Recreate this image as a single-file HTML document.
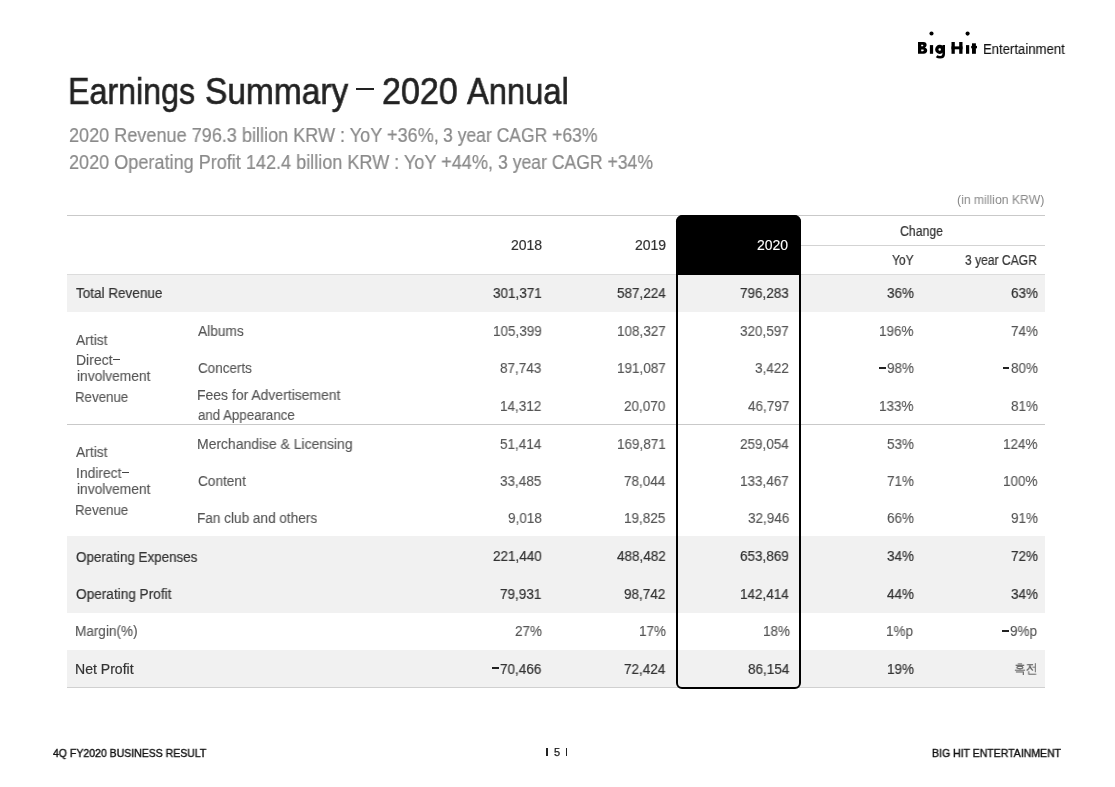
<!DOCTYPE html>
<html><head><meta charset="utf-8">
<style>
*{margin:0;padding:0;box-sizing:border-box}
html,body{width:1115px;height:787px;background:#fff;overflow:hidden}
body{position:relative;font-family:"Liberation Sans",sans-serif;color:#333}
.t{position:absolute;white-space:nowrap;transform-origin:0 0;will-change:transform}
.r{position:absolute}
.hl{height:1px;background:#cbcbcb}
</style></head><body>

<div class="r" style="left:67px;top:275px;width:978px;height:37px;background:#f1f1f1"></div>
<div class="r" style="left:67px;top:536px;width:978px;height:77px;background:#f1f1f1"></div>
<div class="r" style="left:67px;top:650px;width:978px;height:37px;background:#f1f1f1"></div>
<div class="r hl" style="left:67px;width:978px;top:215px;background:#c9c9c9"></div>
<div class="r hl" style="left:800px;width:245px;top:245px;background:#d3d3d3"></div>
<div class="r hl" style="left:67px;width:978px;top:274px;background:#dcdcdc"></div>
<div class="r hl" style="left:67px;width:978px;top:424px;background:#c9c9c9"></div>
<div class="r hl" style="left:67px;width:978px;top:687px;background:#d0d0d0"></div>
<div class="r" style="left:676px;top:214.5px;width:124.6px;height:474px;border:2px solid #000;border-radius:6.5px 6.5px 6px 6px"></div>
<div class="r" style="left:676px;top:214.5px;width:124.6px;height:60px;background:#000;border-radius:6.5px 6.5px 0 0"></div>
<div class="r" style="left:356px;top:88px;width:18px;height:2.2px;background:#222"></div>


<svg class="r" style="left:900px;top:20px" width="90" height="45" viewBox="900 20 90 45">
<g fill="#000">
<path fill-rule="evenodd" d="M918,42 H923.4 C925.7,42 926.6,43.3 926.6,44.8 C926.6,46.2 925.9,47.1 924.9,47.6 C926.4,48 927.2,49.2 927.2,50.6 C927.2,52.6 925.9,53.8 923.7,53.8 H918 Z M921.2,44.7 H922.7 C923.1,44.7 923.3,45.1 923.3,45.5 C923.3,45.9 923.1,46.3 922.7,46.3 H921.2 Z M921.2,49.4 H922.9 C923.5,49.4 923.8,49.9 923.8,50.35 C923.8,50.8 923.5,51.3 922.9,51.3 H921.2 Z"/>
<rect x="929.9" y="45.1" width="3.2" height="8.7"/>
<circle cx="931.5" cy="33.5" r="2.05"/>
<rect x="951.5" y="42" width="3.3" height="11.8"/>
<rect x="959.2" y="42" width="3.3" height="11.8"/>
<rect x="951.5" y="46.4" width="11" height="2.9"/>
<rect x="966" y="45.1" width="3.2" height="8.7"/>
<circle cx="967.6" cy="33.6" r="2.05"/>
<rect x="972" y="43.3" width="3.9" height="10.5"/>
<rect x="971.2" y="45.9" width="5.8" height="2.4"/>
</g>
<g fill="none" stroke="#000">
<circle cx="939.7" cy="49.4" r="2.9" stroke-width="3.3"/>
<path d="M943.7,45.1 V54 C943.7,56.4 942.2,57.3 940.2,57.3 C938.7,57.3 937.5,56.9 936.6,56.2" stroke-width="2.6"/>
</g>
</svg>

<div class="r" style="left:546.1px;top:747.8px;width:1.5px;height:8.6px;background:#222"></div>
<div class="r" style="left:565.9px;top:747.8px;width:1.5px;height:8.6px;background:#222"></div>
<div class="t" style="left:554px;top:747px;font-size:11px;line-height:11px;color:#1a1a1a;-webkit-text-stroke:0.25px #1a1a1a">5</div>
<div class="t" style="left:68.21px;top:74px;font-size:36px;line-height:36px;color:#222;transform:scaleX(0.8951);-webkit-text-stroke:0.6px #222;">Earnings</div>
<div class="t" style="left:204.57px;top:74px;font-size:36px;line-height:36px;color:#222;transform:scaleX(0.9299);-webkit-text-stroke:0.6px #222;">Summary</div>
<div class="t" style="left:382.15px;top:74px;font-size:36px;line-height:36px;color:#222;transform:scaleX(0.9467);-webkit-text-stroke:0.6px #222;">2020</div>
<div class="t" style="left:467.00px;top:74px;font-size:36px;line-height:36px;color:#222;transform:scaleX(0.9083);-webkit-text-stroke:0.6px #222;">Annual</div>
<div class="t" style="left:68.50px;top:125px;font-size:20px;line-height:20px;color:#8a8a8a;transform:scaleX(0.9040);-webkit-text-stroke:0.2px #8a8a8a;">2020 Revenue 796.3 billion KRW : YoY +36%,</div>
<div class="t" style="left:443.00px;top:125px;font-size:20px;line-height:20px;color:#8a8a8a;transform:scaleX(0.8764);-webkit-text-stroke:0.2px #8a8a8a;">3 year CAGR +63%</div>
<div class="t" style="left:68.50px;top:152px;font-size:20px;line-height:20px;color:#8a8a8a;transform:scaleX(0.9039);-webkit-text-stroke:0.2px #8a8a8a;">2020 Operating Profit 142.4 billion KRW : YoY +44%,</div>
<div class="t" style="left:497.60px;top:152px;font-size:20px;line-height:20px;color:#8a8a8a;transform:scaleX(0.8792);-webkit-text-stroke:0.2px #8a8a8a;">3 year CAGR +34%</div>
<div class="t" style="left:957.00px;top:194px;font-size:12.5px;line-height:12.5px;color:#888;transform:scaleX(0.9765);">(in million KRW)</div>
<div class="t" style="left:510.94px;top:238px;font-size:14px;line-height:14px;color:#333;-webkit-text-stroke:0.2px #333;">2018</div>
<div class="t" style="left:634.64px;top:238px;font-size:14px;line-height:14px;color:#333;-webkit-text-stroke:0.2px #333;">2019</div>
<div class="t" style="left:756.64px;top:238px;font-size:14px;line-height:14px;color:#fff;-webkit-text-stroke:0.12px #fff;">2020</div>
<div class="t" style="left:900.40px;top:224px;font-size:14px;line-height:14px;color:#333;transform:scaleX(0.8750);-webkit-text-stroke:0.2px #333;">Change</div>
<div class="t" style="left:891.50px;top:253px;font-size:14px;line-height:14px;color:#333;transform:scaleX(0.8630);-webkit-text-stroke:0.2px #333;">YoY</div>
<div class="t" style="left:965.40px;top:253px;font-size:14px;line-height:14px;color:#333;transform:scaleX(0.8624);-webkit-text-stroke:0.2px #333;">3 year CAGR</div>
<div class="t" style="left:492.76px;top:286px;font-size:14px;line-height:14px;color:#333;transform:scaleX(0.9650);-webkit-text-stroke:0.2px #333;">301,371</div>
<div class="t" style="left:616.96px;top:286px;font-size:14px;line-height:14px;color:#333;transform:scaleX(0.9650);-webkit-text-stroke:0.2px #333;">587,224</div>
<div class="t" style="left:740.16px;top:286px;font-size:14px;line-height:14px;color:#333;transform:scaleX(0.9650);-webkit-text-stroke:0.2px #333;">796,283</div>
<div class="t" style="left:886.89px;top:286px;font-size:14px;line-height:14px;color:#333;transform:scaleX(0.9650);-webkit-text-stroke:0.2px #333;">36%</div>
<div class="t" style="left:1010.59px;top:286px;font-size:14px;line-height:14px;color:#333;transform:scaleX(0.9650);-webkit-text-stroke:0.2px #333;">63%</div>
<div class="t" style="left:492.76px;top:324px;font-size:14px;line-height:14px;color:#555;transform:scaleX(0.9650);-webkit-text-stroke:0.12px #555;">105,399</div>
<div class="t" style="left:616.96px;top:324px;font-size:14px;line-height:14px;color:#555;transform:scaleX(0.9650);-webkit-text-stroke:0.12px #555;">108,327</div>
<div class="t" style="left:740.16px;top:324px;font-size:14px;line-height:14px;color:#555;transform:scaleX(0.9650);-webkit-text-stroke:0.12px #555;">320,597</div>
<div class="t" style="left:879.38px;top:324px;font-size:14px;line-height:14px;color:#555;transform:scaleX(0.9650);-webkit-text-stroke:0.12px #555;">196%</div>
<div class="t" style="left:1010.59px;top:324px;font-size:14px;line-height:14px;color:#555;transform:scaleX(0.9650);-webkit-text-stroke:0.12px #555;">74%</div>
<div class="t" style="left:500.27px;top:361px;font-size:14px;line-height:14px;color:#555;transform:scaleX(0.9650);-webkit-text-stroke:0.12px #555;">87,743</div>
<div class="t" style="left:616.96px;top:361px;font-size:14px;line-height:14px;color:#555;transform:scaleX(0.9650);-webkit-text-stroke:0.12px #555;">191,087</div>
<div class="t" style="left:755.19px;top:361px;font-size:14px;line-height:14px;color:#555;transform:scaleX(0.9650);-webkit-text-stroke:0.12px #555;">3,422</div>
<div class="t" style="left:886.89px;top:361px;font-size:14px;line-height:14px;color:#555;transform:scaleX(0.9650);-webkit-text-stroke:0.12px #555;">98%</div>
<div class="t" style="left:1010.59px;top:361px;font-size:14px;line-height:14px;color:#555;transform:scaleX(0.9650);-webkit-text-stroke:0.12px #555;">80%</div>
<div class="t" style="left:500.27px;top:399px;font-size:14px;line-height:14px;color:#555;transform:scaleX(0.9650);-webkit-text-stroke:0.12px #555;">14,312</div>
<div class="t" style="left:624.47px;top:399px;font-size:14px;line-height:14px;color:#555;transform:scaleX(0.9650);-webkit-text-stroke:0.12px #555;">20,070</div>
<div class="t" style="left:747.67px;top:399px;font-size:14px;line-height:14px;color:#555;transform:scaleX(0.9650);-webkit-text-stroke:0.12px #555;">46,797</div>
<div class="t" style="left:879.38px;top:399px;font-size:14px;line-height:14px;color:#555;transform:scaleX(0.9650);-webkit-text-stroke:0.12px #555;">133%</div>
<div class="t" style="left:1010.59px;top:399px;font-size:14px;line-height:14px;color:#555;transform:scaleX(0.9650);-webkit-text-stroke:0.12px #555;">81%</div>
<div class="t" style="left:500.27px;top:437px;font-size:14px;line-height:14px;color:#555;transform:scaleX(0.9650);-webkit-text-stroke:0.12px #555;">51,414</div>
<div class="t" style="left:616.96px;top:437px;font-size:14px;line-height:14px;color:#555;transform:scaleX(0.9650);-webkit-text-stroke:0.12px #555;">169,871</div>
<div class="t" style="left:740.16px;top:437px;font-size:14px;line-height:14px;color:#555;transform:scaleX(0.9650);-webkit-text-stroke:0.12px #555;">259,054</div>
<div class="t" style="left:886.89px;top:437px;font-size:14px;line-height:14px;color:#555;transform:scaleX(0.9650);-webkit-text-stroke:0.12px #555;">53%</div>
<div class="t" style="left:1003.08px;top:437px;font-size:14px;line-height:14px;color:#555;transform:scaleX(0.9650);-webkit-text-stroke:0.12px #555;">124%</div>
<div class="t" style="left:500.27px;top:474px;font-size:14px;line-height:14px;color:#555;transform:scaleX(0.9650);-webkit-text-stroke:0.12px #555;">33,485</div>
<div class="t" style="left:624.47px;top:474px;font-size:14px;line-height:14px;color:#555;transform:scaleX(0.9650);-webkit-text-stroke:0.12px #555;">78,044</div>
<div class="t" style="left:740.16px;top:474px;font-size:14px;line-height:14px;color:#555;transform:scaleX(0.9650);-webkit-text-stroke:0.12px #555;">133,467</div>
<div class="t" style="left:886.89px;top:474px;font-size:14px;line-height:14px;color:#555;transform:scaleX(0.9650);-webkit-text-stroke:0.12px #555;">71%</div>
<div class="t" style="left:1003.08px;top:474px;font-size:14px;line-height:14px;color:#555;transform:scaleX(0.9650);-webkit-text-stroke:0.12px #555;">100%</div>
<div class="t" style="left:507.79px;top:511px;font-size:14px;line-height:14px;color:#555;transform:scaleX(0.9650);-webkit-text-stroke:0.12px #555;">9,018</div>
<div class="t" style="left:624.47px;top:511px;font-size:14px;line-height:14px;color:#555;transform:scaleX(0.9650);-webkit-text-stroke:0.12px #555;">19,825</div>
<div class="t" style="left:747.67px;top:511px;font-size:14px;line-height:14px;color:#555;transform:scaleX(0.9650);-webkit-text-stroke:0.12px #555;">32,946</div>
<div class="t" style="left:886.89px;top:511px;font-size:14px;line-height:14px;color:#555;transform:scaleX(0.9650);-webkit-text-stroke:0.12px #555;">66%</div>
<div class="t" style="left:1010.59px;top:511px;font-size:14px;line-height:14px;color:#555;transform:scaleX(0.9650);-webkit-text-stroke:0.12px #555;">91%</div>
<div class="t" style="left:492.76px;top:549px;font-size:14px;line-height:14px;color:#333;transform:scaleX(0.9650);-webkit-text-stroke:0.2px #333;">221,440</div>
<div class="t" style="left:616.96px;top:549px;font-size:14px;line-height:14px;color:#333;transform:scaleX(0.9650);-webkit-text-stroke:0.2px #333;">488,482</div>
<div class="t" style="left:740.16px;top:549px;font-size:14px;line-height:14px;color:#333;transform:scaleX(0.9650);-webkit-text-stroke:0.2px #333;">653,869</div>
<div class="t" style="left:886.89px;top:549px;font-size:14px;line-height:14px;color:#333;transform:scaleX(0.9650);-webkit-text-stroke:0.2px #333;">34%</div>
<div class="t" style="left:1010.59px;top:549px;font-size:14px;line-height:14px;color:#333;transform:scaleX(0.9650);-webkit-text-stroke:0.2px #333;">72%</div>
<div class="t" style="left:500.27px;top:587px;font-size:14px;line-height:14px;color:#333;transform:scaleX(0.9650);-webkit-text-stroke:0.2px #333;">79,931</div>
<div class="t" style="left:624.47px;top:587px;font-size:14px;line-height:14px;color:#333;transform:scaleX(0.9650);-webkit-text-stroke:0.2px #333;">98,742</div>
<div class="t" style="left:740.16px;top:587px;font-size:14px;line-height:14px;color:#333;transform:scaleX(0.9650);-webkit-text-stroke:0.2px #333;">142,414</div>
<div class="t" style="left:886.89px;top:587px;font-size:14px;line-height:14px;color:#333;transform:scaleX(0.9650);-webkit-text-stroke:0.2px #333;">44%</div>
<div class="t" style="left:1010.59px;top:587px;font-size:14px;line-height:14px;color:#333;transform:scaleX(0.9650);-webkit-text-stroke:0.2px #333;">34%</div>
<div class="t" style="left:515.19px;top:624px;font-size:14px;line-height:14px;color:#555;transform:scaleX(0.9650);-webkit-text-stroke:0.12px #555;">27%</div>
<div class="t" style="left:639.39px;top:624px;font-size:14px;line-height:14px;color:#555;transform:scaleX(0.9650);-webkit-text-stroke:0.12px #555;">17%</div>
<div class="t" style="left:762.59px;top:624px;font-size:14px;line-height:14px;color:#555;transform:scaleX(0.9650);-webkit-text-stroke:0.12px #555;">18%</div>
<div class="t" style="left:886.25px;top:624px;font-size:14px;line-height:14px;color:#555;transform:scaleX(0.9650);-webkit-text-stroke:0.12px #555;">1%p</div>
<div class="t" style="left:1009.95px;top:624px;font-size:14px;line-height:14px;color:#555;transform:scaleX(0.9650);-webkit-text-stroke:0.12px #555;">9%p</div>
<div class="t" style="left:500.27px;top:662px;font-size:14px;line-height:14px;color:#333;transform:scaleX(0.9650);-webkit-text-stroke:0.2px #333;">70,466</div>
<div class="t" style="left:624.47px;top:662px;font-size:14px;line-height:14px;color:#333;transform:scaleX(0.9650);-webkit-text-stroke:0.2px #333;">72,424</div>
<div class="t" style="left:747.67px;top:662px;font-size:14px;line-height:14px;color:#333;transform:scaleX(0.9650);-webkit-text-stroke:0.2px #333;">86,154</div>
<div class="t" style="left:886.89px;top:662px;font-size:14px;line-height:14px;color:#333;transform:scaleX(0.9650);-webkit-text-stroke:0.2px #333;">19%</div>
<div class="t" style="left:1014.20px;top:662px;font-size:13px;line-height:13px;color:#555;transform:scaleX(0.9040);-webkit-text-stroke:0.12px #555;">흑전</div>
<div class="t" style="left:75.80px;top:286px;font-size:14px;line-height:14px;color:#333;transform:scaleX(0.9653);-webkit-text-stroke:0.2px #333;">Total Revenue</div>
<div class="t" style="left:198.40px;top:324px;font-size:14px;line-height:14px;color:#555;transform:scaleX(0.9790);-webkit-text-stroke:0.12px #555;">Albums</div>
<div class="t" style="left:198.40px;top:361px;font-size:14px;line-height:14px;color:#555;transform:scaleX(0.9604);-webkit-text-stroke:0.12px #555;">Concerts</div>
<div class="t" style="left:197.40px;top:388px;font-size:14px;line-height:14px;color:#555;transform:scaleX(0.9963);-webkit-text-stroke:0.12px #555;">Fees for Advertisement</div>
<div class="t" style="left:198.40px;top:408px;font-size:14px;line-height:14px;color:#555;transform:scaleX(0.9479);-webkit-text-stroke:0.12px #555;">and Appearance</div>
<div class="t" style="left:76.30px;top:333px;font-size:14px;line-height:14px;color:#555;transform:scaleX(0.9844);-webkit-text-stroke:0.12px #555;">Artist</div>
<div class="t" style="left:75.50px;top:353px;font-size:14px;line-height:14px;color:#555;transform:scaleX(0.9953);-webkit-text-stroke:0.12px #555;">Direct</div>
<div class="t" style="left:77.30px;top:369px;font-size:14px;line-height:14px;color:#555;transform:scaleX(0.9824);-webkit-text-stroke:0.12px #555;">involvement</div>
<div class="t" style="left:75.35px;top:390px;font-size:14px;line-height:14px;color:#555;transform:scaleX(0.9483);-webkit-text-stroke:0.12px #555;">Revenue</div>
<div class="t" style="left:197.41px;top:437px;font-size:14px;line-height:14px;color:#555;transform:scaleX(0.9946);-webkit-text-stroke:0.12px #555;">Merchandise &amp; Licensing</div>
<div class="t" style="left:198.40px;top:474px;font-size:14px;line-height:14px;color:#555;transform:scaleX(0.9747);-webkit-text-stroke:0.12px #555;">Content</div>
<div class="t" style="left:197.43px;top:511px;font-size:14px;line-height:14px;color:#555;transform:scaleX(0.9711);-webkit-text-stroke:0.12px #555;">Fan club and others</div>
<div class="t" style="left:76.30px;top:445px;font-size:14px;line-height:14px;color:#555;transform:scaleX(0.9844);-webkit-text-stroke:0.12px #555;">Artist</div>
<div class="t" style="left:75.91px;top:466px;font-size:14px;line-height:14px;color:#555;transform:scaleX(0.9884);-webkit-text-stroke:0.12px #555;">Indirect</div>
<div class="t" style="left:77.30px;top:482px;font-size:14px;line-height:14px;color:#555;transform:scaleX(0.9824);-webkit-text-stroke:0.12px #555;">involvement</div>
<div class="t" style="left:75.35px;top:503px;font-size:14px;line-height:14px;color:#555;transform:scaleX(0.9483);-webkit-text-stroke:0.12px #555;">Revenue</div>
<div class="t" style="left:76.20px;top:550px;font-size:14px;line-height:14px;color:#333;transform:scaleX(0.9570);-webkit-text-stroke:0.2px #333;">Operating Expenses</div>
<div class="t" style="left:76.20px;top:587px;font-size:14px;line-height:14px;color:#333;transform:scaleX(0.9729);-webkit-text-stroke:0.2px #333;">Operating Profit</div>
<div class="t" style="left:75.23px;top:624px;font-size:14px;line-height:14px;color:#555;transform:scaleX(0.9682);-webkit-text-stroke:0.12px #555;">Margin(%)</div>
<div class="t" style="left:75.20px;top:662px;font-size:14px;line-height:14px;color:#333;transform:scaleX(1.0041);-webkit-text-stroke:0.2px #333;">Net Profit</div>
<div class="t" style="left:53.40px;top:748px;font-size:11px;line-height:11px;color:#111;transform:scaleX(0.9549);-webkit-text-stroke:0.4px #111;">4Q FY2020 BUSINESS RESULT</div>
<div class="t" style="left:932.20px;top:748px;font-size:11px;line-height:11px;color:#111;transform:scaleX(0.9554);-webkit-text-stroke:0.4px #111;">BIG HIT ENTERTAINMENT</div>
<div class="t" style="left:982.86px;top:42px;font-size:14px;line-height:14px;color:#111;transform:scaleX(0.9378);-webkit-text-stroke:0.12px #111;">Entertainment</div>
<div class="r" style="left:878.89px;top:367.00px;width:6.8px;height:2.1px;background:#222"></div>
<div class="r" style="left:1002.59px;top:367.00px;width:6.8px;height:2.1px;background:#222"></div>
<div class="r" style="left:1001.95px;top:629.70px;width:6.8px;height:2.1px;background:#222"></div>
<div class="r" style="left:492.27px;top:667.40px;width:6.8px;height:2.1px;background:#222"></div>
<div class="r" style="left:113.00px;top:358.60px;width:7px;height:1.5px;background:#444"></div>
<div class="r" style="left:122.40px;top:471.60px;width:7px;height:1.5px;background:#444"></div>
</body></html>
